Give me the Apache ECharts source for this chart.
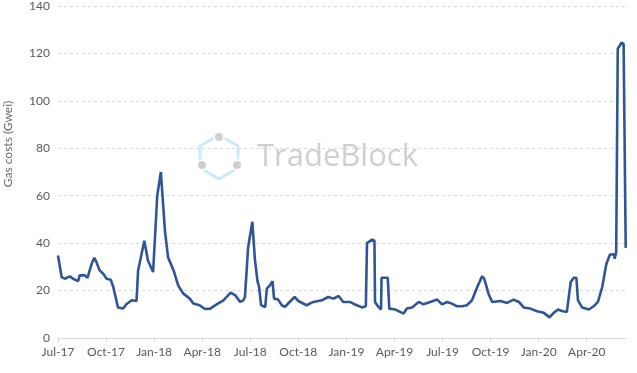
<!DOCTYPE html>
<html><head><meta charset="utf-8">
<script src="https://cdn.jsdelivr.net/npm/echarts@6/dist/echarts.min.js"></script>
<style>html,body{margin:0;padding:0;background:#fff}#c{width:637px;height:373px}</style>
</head><body><div id="c"></div>
<script>
const dates = ['2017-07-01','2017-07-08','2017-07-14','2017-07-24','2017-07-30','2017-08-09','2017-08-12','2017-08-22','2017-08-27','2017-09-04','2017-09-09','2017-09-13','2017-09-19','2017-09-26','2017-10-02','2017-10-10','2017-10-15','2017-10-24','2017-11-03','2017-11-09','2017-11-19','2017-11-28','2017-12-01','2017-12-13','2017-12-20','2017-12-30',
'2018-01-07','2018-01-14','2018-01-22','2018-01-28','2018-02-07','2018-02-15','2018-02-24','2018-03-08','2018-03-15','2018-03-27','2018-04-06','2018-04-16','2018-04-28','2018-05-11','2018-05-25','2018-06-03','2018-06-12','2018-06-18','2018-06-21','2018-06-27','2018-07-05','2018-07-10','2018-07-15','2018-07-18','2018-07-22','2018-07-30','2018-08-02','2018-08-08','2018-08-13','2018-08-16','2018-08-24','2018-08-31','2018-09-06','2018-09-16','2018-09-24','2018-10-01','2018-10-04','2018-10-17','2018-10-30','2018-11-15','2018-11-27','2018-12-07','2018-12-17','2018-12-26',
'2019-01-08','2019-01-18','2019-01-31','2019-02-07','2019-02-09','2019-02-18','2019-02-22','2019-02-23','2019-03-01','2019-03-06','2019-03-07','2019-03-19','2019-03-22','2019-04-03','2019-04-18','2019-04-24','2019-05-04','2019-05-17','2019-05-26','2019-06-08','2019-06-21','2019-06-30','2019-07-10','2019-07-19','2019-07-29','2019-08-08','2019-08-17','2019-08-27','2019-09-06','2019-09-15','2019-09-19','2019-09-27','2019-10-04','2019-10-20','2019-11-02','2019-11-14','2019-11-24','2019-12-03','2019-12-16','2019-12-29',
'2020-01-11','2020-01-22','2020-01-30','2020-02-07','2020-02-14','2020-02-23','2020-03-01','2020-03-07','2020-03-12','2020-03-15','2020-03-23','2020-04-05','2020-04-14','2020-04-22','2020-04-30','2020-05-08','2020-05-15','2020-05-23','2020-05-24','2020-05-27','2020-05-30','2020-06-02','2020-06-06','2020-06-10','2020-06-14'];
const gasCosts = [34.8,25.7,25,26,25,24,26.4,26.4,25.4,31.3,33.8,32,28.5,27,25,24.6,21.5,12.9,12.4,14.2,15.9,15.6,28.5,41,32.7,27.8,
60,70,45,34,28.5,22.2,18.7,16.6,14.5,13.8,12.2,12.4,14.2,15.9,19.1,18,15.2,15.9,17.3,38.3,49,33,24,21.5,13.8,13.1,20.8,22.2,24,16.6,16.2,13.8,13.1,15.5,17.3,15.6,15.2,13.8,15.2,15.9,17.3,16.6,17.7,15.2,
15.2,14.1,12.9,13.4,40,41.5,41,15.2,13.1,12,25.4,25.4,12.4,12,10.3,12.4,12.9,15.2,14.2,15.2,16.2,14.2,15.2,14.5,13.4,13.4,13.8,15.9,21.5,26,25,18.7,15.2,15.6,14.8,16.2,15.2,12.9,12.4,11.3,
10.6,8.7,10.6,12,11.4,11,23.6,25.4,25.4,15.9,12.9,12,13.4,15.2,21.5,31.3,35.2,35.2,33.4,36.2,122,123,124.5,124,38];
const tickLabels = ['Jul-17','Oct-17','Jan-18','Apr-18','Jul-18','Oct-18','Jan-19','Apr-19','Jul-19','Oct-19','Jan-20','Apr-20'];
const yTicks = [0,20,40,60,80,100,120,140];

function monthsSince(s){
  const [y,m,d]=s.split('-').map(Number);
  const dim = new Date(y,m,0).getDate();
  return (y-2017)*12+(m-7)+(d-1)/dim;
}
const seriesData = dates.map((d,i)=>[monthsSince(d), gasCosts[i]]);
const font = 'Lato';
const chart = echarts.init(document.getElementById('c'), null, {renderer:'canvas'});
chart.setOption({
  animation:false,
  backgroundColor:'#fff',
  grid:{left:58,right:11,top:4,bottom:35,containLabel:false},
  xAxis:{type:'value',min:0,max:35.45,interval:3,
    axisLine:{show:true,lineStyle:{color:'#d9d9d9',width:1}},
    axisTick:{show:true,length:5,lineStyle:{color:'#d9d9d9'}},
    splitLine:{show:false},
    axisLabel:{color:'#595959',fontFamily:font,fontSize:12,margin:8,showMaxLabel:false,
      formatter:v=>tickLabels[Math.round(v/3)]||''}},
  yAxis:{type:'value',min:yTicks[0],max:yTicks[yTicks.length-1],interval:20,
    axisLine:{show:false},axisTick:{show:false},
    splitLine:{show:true,lineStyle:{color:'#d9d9d9',type:[3,3],width:1}},
    axisLabel:{color:'#595959',fontFamily:font,fontSize:12,margin:8}},
  graphic:[
    {type:'text',x:8,y:144,rotation:Math.PI/2,
      style:{text:'Gas costs (Gwei)',fill:'#666',font:'12px '+font,align:'center',verticalAlign:'middle'}},
    {type:'polygon',z:-1,shape:{points:[[219,135],[238,146],[238,168],[219,179],[200,168],[200,146]]},
      style:{fill:'none',stroke:'#c9ebf8',lineWidth:3}},
    {type:'circle',z:-1,shape:{cx:219,cy:137,r:5},style:{fill:'#cfcfd3',stroke:'#fff',lineWidth:2}},
    {type:'circle',z:-1,shape:{cx:202,cy:165,r:5},style:{fill:'#cfcfd3',stroke:'#fff',lineWidth:2}},
    {type:'circle',z:-1,shape:{cx:237,cy:165,r:5},style:{fill:'#cfcfd3',stroke:'#fff',lineWidth:2}},
    {type:'text',z:-1,x:257,y:157,style:{text:'TradeBlock',fill:'#cfcfd3',font:'31px "Open Sans"',verticalAlign:'middle'}}
  ],
  series:[{type:'line',data:seriesData,showSymbol:false,smooth:false,z:5,
    lineStyle:{color:'#2f5597',width:2.6}}]
});
</script></body></html>
